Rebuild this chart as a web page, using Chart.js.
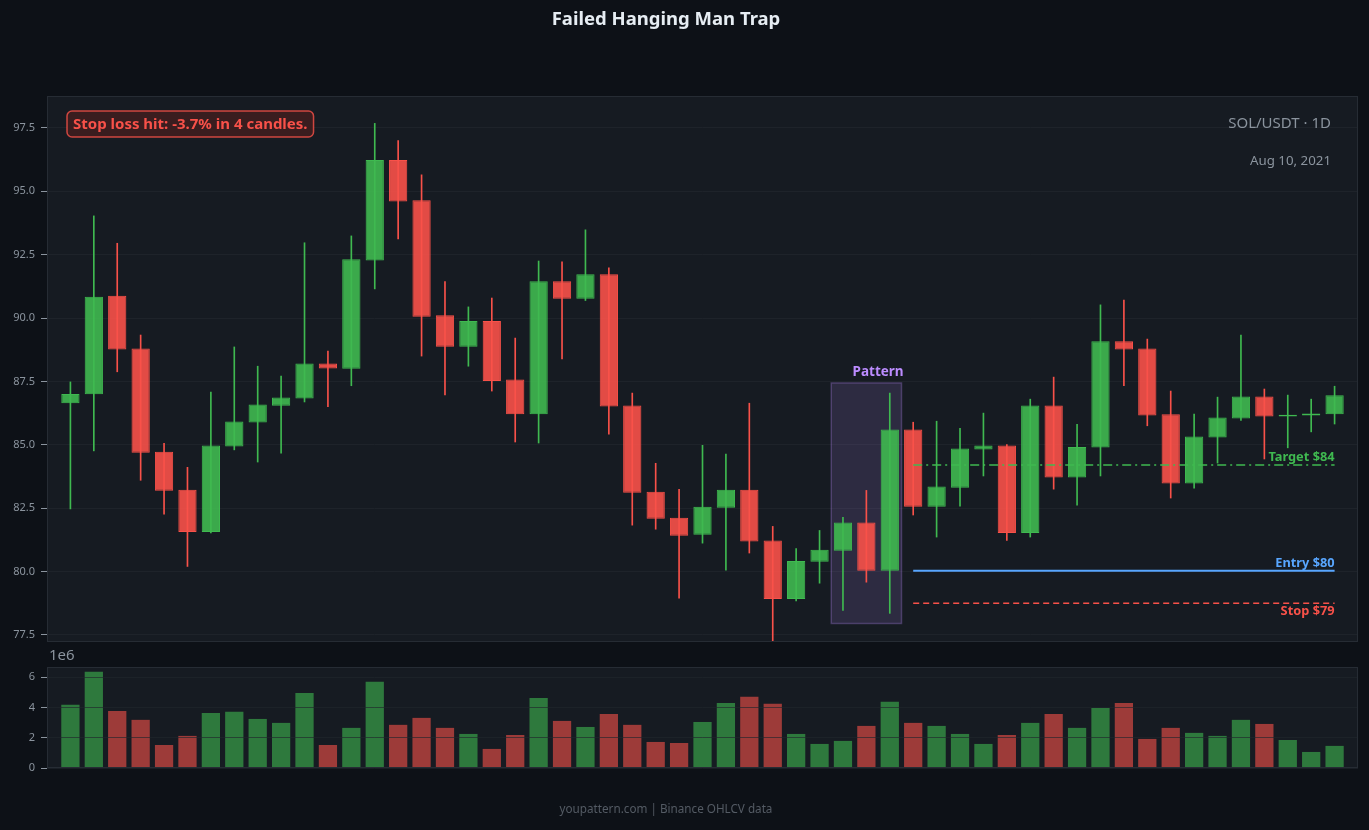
<!DOCTYPE html>
<html>
<head>
<meta charset="utf-8">
<title>Failed Hanging Man Trap</title>
<script src="https://cdn.jsdelivr.net/npm/chart.js@4.4.1/dist/chart.umd.min.js"></script>
<style>
  html, body { margin: 0; padding: 0; background: #0d1117; }
  body { width: 1369px; height: 830px; position: relative; overflow: hidden; }
  canvas { position: absolute; left: 0; }
  #price { top: 0; }
  #volume { top: 650px; }
</style>
</head>
<body>
<canvas id="price" width="1369" height="650"></canvas>
<canvas id="volume" width="1369" height="180"></canvas>
<script>
// OHLCV, one entry per daily candle
const OPEN  = [86.64, 86.99, 90.88, 88.80, 84.73, 83.23, 81.56, 84.93, 85.88, 86.54,
               86.83, 88.21, 88.00, 92.27, 96.24, 94.65, 90.11, 88.87, 89.88, 87.58,
               86.20, 91.45, 90.76, 91.73, 86.55, 83.15, 82.12, 81.45, 82.52, 83.23,
               81.22, 78.92, 80.39, 80.82, 81.93, 80.03, 85.60, 82.56, 83.31, 84.81,
               84.97, 81.52, 86.55, 83.71, 84.89, 89.08, 88.80, 86.20, 83.47, 85.29,
               86.04, 86.91, 86.12, 86.16, 86.20];
const HIGH  = [87.48, 94.03, 92.95, 89.33, 85.06, 84.11, 87.08, 88.86, 88.10, 87.71,
               92.97, 88.70, 93.24, 97.68, 97.00, 95.65, 91.44, 90.44, 90.79, 89.21,
               92.25, 92.22, 93.48, 91.98, 87.04, 84.27, 83.24, 84.98, 84.63, 86.64,
               81.78, 80.91, 81.62, 82.14, 83.20, 87.04, 85.89, 85.93, 85.65, 86.25,
               85.01, 86.80, 87.67, 85.81, 90.52, 90.71, 89.17, 87.12, 86.21, 86.88,
               89.33, 87.20, 86.96, 86.80, 87.31];
const LOW   = [82.47, 84.76, 87.88, 83.60, 82.26, 80.20, 81.52, 84.80, 84.32, 84.67,
               86.69, 86.50, 87.33, 91.15, 93.12, 88.50, 86.97, 88.10, 87.12, 85.11,
               85.07, 88.39, 90.69, 85.42, 81.83, 81.67, 78.95, 81.12, 80.05, 80.73,
               77.21, 78.84, 79.54, 78.47, 79.58, 78.35, 82.23, 81.36, 82.58, 83.77,
               81.23, 81.36, 83.25, 82.62, 83.77, 87.33, 85.75, 82.90, 83.29, 84.28,
               85.96, 84.44, 84.88, 85.51, 85.82];
const CLOSE = [87.00, 90.84, 88.76, 84.69, 83.19, 81.56, 84.97, 85.92, 86.59, 86.87,
               88.21, 88.01, 92.32, 96.24, 94.60, 90.05, 88.87, 89.88, 87.52, 86.20,
               91.45, 90.76, 91.73, 86.51, 83.11, 82.08, 81.41, 82.56, 83.23, 81.18,
               78.92, 80.42, 80.86, 81.93, 80.03, 85.60, 82.56, 83.35, 84.85, 84.97,
               81.52, 86.55, 83.71, 84.91, 89.08, 88.76, 86.16, 83.47, 85.33, 86.08,
               86.91, 86.12, 86.19, 86.23, 86.95];
const VOLUME = [4.17e6, 6.35e6, 3.77e6, 3.18e6, 1.52e6, 2.12e6, 3.64e6, 3.71e6, 3.24e6, 2.98e6,
                4.96e6, 1.52e6, 2.65e6, 5.69e6, 2.85e6, 3.31e6, 2.65e6, 2.25e6, 1.26e6, 2.18e6,
                4.63e6, 3.11e6, 2.71e6, 3.57e6, 2.85e6, 1.72e6, 1.65e6, 3.04e6, 4.30e6, 4.70e6,
                4.24e6, 2.25e6, 1.59e6, 1.79e6, 2.78e6, 4.37e6, 2.98e6, 2.78e6, 2.25e6, 1.59e6,
                2.18e6, 2.98e6, 3.57e6, 2.65e6, 3.97e6, 4.30e6, 1.92e6, 2.65e6, 2.32e6, 2.12e6,
                3.18e6, 2.91e6, 1.85e6, 1.06e6, 1.46e6];

// axes
const PRICE_TICKS = [77.5, 80.0, 82.5, 85.0, 87.5, 90.0, 92.5, 95.0, 97.5];
const PRICE_RANGE = [77.22, 98.76];
const VOLUME_TICKS = [0, 2e6, 4e6, 6e6];
const VOLUME_RANGE = [0, 6.67e6];
const INDEX_RANGE = [-1, 55];

// pattern (candles 33..35) and trade levels
const PATTERN_CANDLES = [33, 34, 35];
const PATTERN_LABEL = 'Pattern';
const LEVEL_NAMES  = ['target', 'entry', 'stop'];
const LEVEL_PRICES = [84.2, 80.03, 78.75];
const LEVEL_LABELS = ['Target $84', 'Entry $80', 'Stop $79'];
const LEVEL_RANGE  = [36, 54];

const TITLE = 'Failed Hanging Man Trap';
const RESULT_TEXT = 'Stop loss hit: -3.7% in 4 candles.';
const SYMBOL_TEXT = 'SOL/USDT \u00b7 1D';
const DATE_TEXT = 'Aug 10, 2021';
const FOOTER_TEXT = 'youpattern.com | Binance OHLCV data';

// colours
const GREEN = '#3fb950';
const RED = '#f85149';
const BLUE = '#58a6ff';
const PURPLE = '#bc8cff';
const TEXT = '#8b949e';

const hexAlpha = (hex, a) => {
  const n = parseInt(hex.slice(1), 16);
  return `rgba(${n >> 16}, ${(n >> 8) & 255}, ${n & 255}, ${a})`;
};

Chart.defaults.font.family = "'Noto Sans', 'Open Sans', sans-serif";
Chart.defaults.color = TEXT;

const isUp = (i) => CLOSE[i] >= OPEN[i];
const candleColor = (i, a) => hexAlpha(isUp(i) ? GREEN : RED, a);

// plot background + frame
const panelPlugin = {
  id: 'panel',
  beforeDraw(chart) {
    const { ctx, chartArea: a } = chart;
    ctx.save();
    ctx.fillStyle = '#161b22';
    ctx.fillRect(a.left, a.top, a.right - a.left, a.bottom - a.top);
    ctx.restore();
  },
  afterDraw(chart) {
    const { ctx, chartArea: a } = chart;
    ctx.save();
    ctx.strokeStyle = '#262c34';
    ctx.lineWidth = 1;
    ctx.strokeRect(a.left + 0.5, a.top + 0.5, a.right - a.left - 1, a.bottom - a.top - 1);
    ctx.restore();
  }
};

const yAxisWidth = (scale) => { scale.width = 47; };
const yAxisFlush = (scale) => {
  scale.width = 47;
  scale.paddingTop = 0;
  scale.paddingBottom = 0;
};

// pattern box, drawn under the candles
const patternPlugin = {
  id: 'pattern',
  beforeDatasetsDraw(chart) {
    const { ctx, scales: { x, y } } = chart;
    const first = PATTERN_CANDLES[0];
    const last = PATTERN_CANDLES[PATTERN_CANDLES.length - 1];
    const lo = Math.min(...PATTERN_CANDLES.map(i => LOW[i])) - 0.4;
    const hi = Math.max(...PATTERN_CANDLES.map(i => HIGH[i])) + 0.4;
    const x0 = x.getPixelForValue(first - 0.5);
    const x1 = x.getPixelForValue(last + 0.5);
    const y0 = y.getPixelForValue(hi);
    const y1 = y.getPixelForValue(lo);
    ctx.save();
    ctx.fillStyle = hexAlpha(PURPLE, 0.14);
    ctx.strokeStyle = hexAlpha(PURPLE, 0.28);
    ctx.lineWidth = 1.5;
    ctx.fillRect(x0, y0, x1 - x0, y1 - y0);
    ctx.strokeRect(x0, y0, x1 - x0, y1 - y0);
    ctx.font = "bold 13.5px 'Noto Sans'";
    ctx.fillStyle = PURPLE;
    ctx.textAlign = 'center';
    ctx.textBaseline = 'middle';
    ctx.fillText(PATTERN_LABEL, x.getPixelForValue(last - 0.5), y0 - 11);
    ctx.restore();
  }
};

// texts around the price panel
const priceTextPlugin = {
  id: 'priceText',
  afterDraw(chart) {
    const { ctx, scales: { x, y } } = chart;
    ctx.save();

    ctx.font = "bold 18.5px 'Noto Sans'";
    ctx.fillStyle = '#e6edf3';
    ctx.textAlign = 'center';
    ctx.textBaseline = 'middle';
    ctx.fillText(TITLE, 666, 20);

    // result badge
    ctx.font = "bold 15px 'Noto Sans'";
    const w = ctx.measureText(RESULT_TEXT).width;
    ctx.beginPath();
    ctx.roundRect(67, 111, w + 12, 26, 5);
    ctx.fillStyle = '#3a1d1f';
    ctx.fill();
    ctx.strokeStyle = hexAlpha(RED, 0.8);
    ctx.lineWidth = 1.5;
    ctx.stroke();
    ctx.fillStyle = RED;
    ctx.textAlign = 'left';
    ctx.textBaseline = 'middle';
    ctx.fillText(RESULT_TEXT, 73, 124.5);

    ctx.fillStyle = TEXT;
    ctx.textAlign = 'right';
    ctx.font = "15px 'Noto Sans'";
    ctx.fillText(SYMBOL_TEXT, 1331, 124);
    ctx.font = "13.3px 'Noto Sans'";
    ctx.fillText(DATE_TEXT, 1331, 161);

    // level labels
    const xr = x.getPixelForValue(LEVEL_RANGE[1]);
    const levelColors = [GREEN, BLUE, RED];
    ctx.font = "bold 12.8px 'Noto Sans'";
    ctx.textBaseline = 'middle';
    LEVEL_NAMES.forEach((name, k) => {
      const py = y.getPixelForValue(LEVEL_PRICES[k]);
      ctx.fillStyle = levelColors[k];
      ctx.fillText(LEVEL_LABELS[k], xr, name === 'stop' ? py + 8 : py - 7.5);
    });
    ctx.restore();
  }
};

const volumeTextPlugin = {
  id: 'volumeText',
  afterDraw(chart) {
    const { ctx } = chart;
    ctx.save();
    ctx.fillStyle = TEXT;
    ctx.font = "15px 'Noto Sans'";
    ctx.textAlign = 'left';
    ctx.textBaseline = 'middle';
    ctx.fillText('1e6', 49, 6);
    ctx.fillStyle = '#545b64';
    ctx.font = "11.7px 'Noto Sans'";
    ctx.textAlign = 'center';
    ctx.fillText(FOOTER_TEXT, 666, 160);
    ctx.restore();
  }
};

const idx = OPEN.map((_, i) => i);

const levelDataset = (k, color, width, dash) => ({
  type: 'line',
  data: LEVEL_RANGE.map(v => ({ x: v, y: LEVEL_PRICES[k] })),
  borderColor: color,
  borderWidth: width,
  borderDash: dash,
  pointRadius: 0,
  fill: false,
  order: 0,
});

new Chart(document.getElementById('price'), {
  type: 'bar',
  data: {
    datasets: [
      // bodies
      {
        data: idx.map(i => ({ x: i, y: [OPEN[i], CLOSE[i]] })),
        backgroundColor: idx.map(i => candleColor(i, 0.9)),
        borderColor: idx.map(i => candleColor(i, 1)),
        borderWidth: 1,
        borderSkipped: false,
        barPercentage: 0.78,
        categoryPercentage: 1,
        grouped: false,
        order: 1,
      },
      // wicks
      {
        data: idx.map(i => ({ x: i, y: [LOW[i], HIGH[i]] })),
        backgroundColor: idx.map(i => candleColor(i, 1)),
        borderWidth: 0,
        barThickness: 1,
        grouped: false,
        order: 2,
      },
      levelDataset(0, GREEN, 1.5, [9, 4, 2, 4]),
      levelDataset(1, BLUE, 2, []),
      levelDataset(2, RED, 1.5, [6, 4]),
    ],
  },
  options: {
    responsive: false,
    animation: false,
    layout: { padding: { top: 96, bottom: 8, left: 0, right: 11 } },
    scales: {
      x: {
        type: 'linear',
        min: INDEX_RANGE[0],
        max: INDEX_RANGE[1],
        offset: false,
        display: false,
      },
      y: {
        min: PRICE_RANGE[0],
        max: PRICE_RANGE[1],
        afterFit: yAxisFlush,
        afterBuildTicks: (scale) => { scale.ticks = PRICE_TICKS.map(v => ({ value: v })); },
        border: { display: false },
        grid: { color: '#1e232a', tickColor: TEXT, tickLength: 6 },
        ticks: {
          padding: 6,
          color: TEXT,
          font: { size: 11 },
          callback: (v) => v.toFixed(1),
        },
      },
    },
    plugins: {
      legend: { display: false },
      tooltip: { enabled: false },
    },
  },
  plugins: [panelPlugin, patternPlugin, priceTextPlugin],
});

new Chart(document.getElementById('volume'), {
  type: 'bar',
  data: {
    datasets: [{
      data: idx.map(i => ({ x: i, y: VOLUME[i] })),
      backgroundColor: idx.map(i => candleColor(i, 0.6)),
      borderWidth: 0,
      barPercentage: 0.78,
      categoryPercentage: 1,
    }],
  },
  options: {
    responsive: false,
    animation: false,
    layout: { padding: { top: 17, bottom: 62, left: 0, right: 11 } },
    scales: {
      x: {
        type: 'linear',
        min: INDEX_RANGE[0],
        max: INDEX_RANGE[1],
        offset: false,
        display: false,
      },
      y: {
        min: VOLUME_RANGE[0],
        max: VOLUME_RANGE[1],
        afterFit: yAxisWidth,
        afterBuildTicks: (scale) => { scale.ticks = VOLUME_TICKS.map(v => ({ value: v })); },
        border: { display: false },
        grid: { color: 'rgba(33, 38, 45, 0.65)', tickColor: TEXT, tickLength: 6, z: 1 },
        ticks: {
          padding: 6,
          color: TEXT,
          font: { size: 11 },
          callback: (v) => String(v / 1e6),
        },
      },
    },
    plugins: {
      legend: { display: false },
      tooltip: { enabled: false },
    },
  },
  plugins: [panelPlugin, volumeTextPlugin],
});
</script>
</body>
</html>
